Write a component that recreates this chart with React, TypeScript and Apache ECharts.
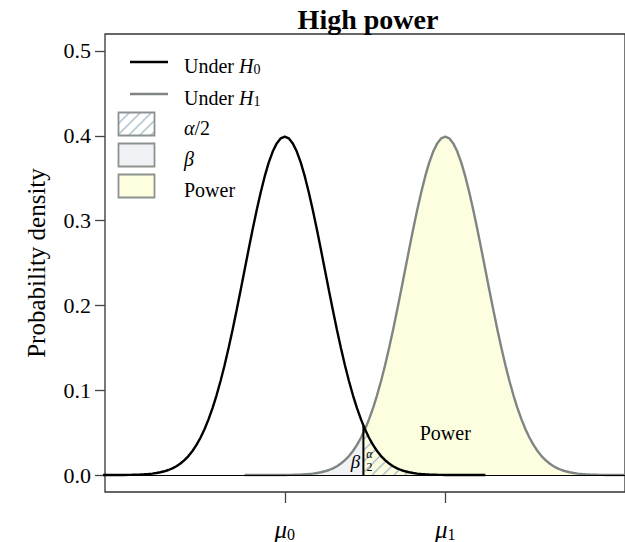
import React, { useEffect, useRef } from "react";
import * as echarts from "echarts";

const titleText = "High power";
const yAxisTitle = "Probability density";
const mu0 = 0;
const mu1 = 4;
const critValue = 1.96;
const h0AtCrit = 0.0584;
const h1AtCrit = 0.0498;
const xMin = -4.48;
const xMax = 8.48;
const yMin = -0.02;
const yMax = 0.52;

// distance from each curve's mean, and density at that distance
const offsets = [
  0, 0.1, 0.2, 0.3, 0.4, 0.5, 0.6, 0.7, 0.8, 0.9, 1.0, 1.1, 1.2, 1.3, 1.4, 1.5, 1.6,
  1.7, 1.8, 1.9, 2.0, 2.1, 2.2, 2.3, 2.4, 2.5, 2.6, 2.7, 2.8, 2.9, 3.0, 3.1, 3.2, 3.3,
  3.4, 3.5, 3.6, 3.7, 3.8, 3.9, 4.0, 4.1, 4.2, 4.3, 4.4, 4.5, 4.6, 4.7, 4.8, 4.9, 5.0,
];
const halfDensity = [
  0.39894, 0.39695, 0.39104, 0.38139, 0.36827, 0.35207, 0.33322, 0.31225, 0.28969,
  0.26609, 0.24197, 0.21785, 0.19419, 0.17137, 0.14973, 0.12952, 0.11092, 0.09405,
  0.07895, 0.06562, 0.05399, 0.04398, 0.03547, 0.02833, 0.02239, 0.01753, 0.01358,
  0.01042, 0.00792, 0.00595, 0.00443, 0.00327, 0.00238, 0.00172, 0.00123, 0.00087,
  0.00061, 0.00042, 0.00029, 0.0002, 0.00013, 0.00009, 0.00006, 0.00004, 0.00002,
  0.00002, 0.00001, 0.00001, 0, 0, 0,
];

const yTicks = [0, 0.1, 0.2, 0.3, 0.4, 0.5];
const xTickValues = [mu0, mu1];
const xTickSubs = ["0", "1"];

const legendItems = [
  { kind: "line", color: "#000000", text: "{n|Under }{i|H}{s|0}" },
  { kind: "line", color: "#7f8581", text: "{n|Under }{i|H}{s|1}" },
  { kind: "hatch", color: "#ffffff", text: "{i|α}{n|/2}" },
  { kind: "box", color: "#f0f2f5", text: "{i|β}" },
  { kind: "box", color: "#fdfde0", text: "{n|Power}" },
];

// annotation anchors in data units
const annotations = [
  { pos: [mu1, 0.05], text: "Power", font: "20px", italic: false },
  { pos: [1.76, 0.016], text: "β", font: "19px", italic: true },
  { pos: [2.11, 0.025], text: "α", font: "12px", italic: true },
  { pos: [2.11, 0.0095], text: "2", font: "12px", italic: false },
];

const FONT = "'Liberation Serif', 'Times New Roman', serif";

function curve(mean: number): number[][] {
  const pts: number[][] = [];
  for (let i = offsets.length - 1; i > 0; i--) pts.push([mean - offsets[i], halfDensity[i]]);
  for (let i = 0; i < offsets.length; i++) pts.push([mean + offsets[i], halfDensity[i]]);
  return pts;
}

function hatchCanvas(bg: string | null) {
  const s = 11;
  const c = document.createElement("canvas");
  c.width = s;
  c.height = s;
  const ctx = c.getContext("2d")!;
  if (bg) {
    ctx.fillStyle = bg;
    ctx.fillRect(0, 0, s, s);
  }
  ctx.strokeStyle = "#b8c9d4";
  ctx.lineWidth = 1.6;
  ctx.beginPath();
  ctx.moveTo(-1, s + 1);
  ctx.lineTo(s + 1, -1);
  ctx.moveTo(-1, 1);
  ctx.lineTo(1, -1);
  ctx.moveTo(s - 1, s + 1);
  ctx.lineTo(s + 1, s - 1);
  ctx.stroke();
  return c;
}

export default function App() {
  const ref = useRef<HTMLDivElement>(null);
  useEffect(() => {
    if (!ref.current) return;
    const chart = echarts.init(ref.current, null, { renderer: "svg" });

    const h0 = curve(mu0);
    const h1 = curve(mu1);
    const betaData = h1.filter((p) => p[0] < critValue).concat([[critValue, h1AtCrit]]);
    const powerData = [[critValue, h1AtCrit]].concat(h1.filter((p) => p[0] > critValue));
    const alphaData = [[critValue, h0AtCrit]].concat(h0.filter((p) => p[0] > critValue));

    const hatchPattern = { image: hatchCanvas(null), repeat: "repeat", imageWidth: 11, imageHeight: 11 };
    const hatchPatternWhite = { image: hatchCanvas("#ffffff"), repeat: "repeat", imageWidth: 11, imageHeight: 11 };

    const legendRich = {
      n: { fontFamily: FONT, fontSize: 20, lineHeight: 26, verticalAlign: "bottom", color: "#000" },
      i: { fontFamily: FONT, fontSize: 20, lineHeight: 26, fontStyle: "italic", verticalAlign: "bottom", color: "#000" },
      s: { fontFamily: FONT, fontSize: 14, lineHeight: 14, verticalAlign: "bottom", color: "#000" },
    };

    const legendYs = [62, 94, 124, 155, 186];
    const graphics: any[] = [
      {
        type: "text",
        x: 368,
        y: 19,
        style: {
          text: titleText,
          font: `bold 28px ${FONT}`,
          fill: "#000",
          textAlign: "center",
          textVerticalAlign: "middle",
        },
      },
    ];
    legendItems.forEach((it, k) => {
      const y = legendYs[k];
      if (it.kind === "line") {
        graphics.push({
          type: "line",
          shape: { x1: 130, y1: y, x2: 168, y2: y },
          style: { stroke: it.color, lineWidth: 2.4 },
        });
      } else {
        graphics.push({
          type: "rect",
          shape: { x: 118.5, y: y - 11.5, width: 36, height: 23 },
          style: {
            fill: it.kind === "hatch" ? hatchPatternWhite : it.color,
            stroke: "#8c938e",
            lineWidth: 1.8,
          },
        });
      }
      graphics.push({
        type: "text",
        x: 184,
        y: y + 1,
        style: {
          text: it.text,
          rich: legendRich,
          textAlign: "left",
          textVerticalAlign: "middle",
        },
      });
    });

    const areaSeries = (data: number[][], color: any) => ({
      type: "line",
      data,
      showSymbol: false,
      symbol: "none",
      silent: true,
      lineStyle: { width: 0, opacity: 0 },
      areaStyle: { color, opacity: 1 },
    });

    const option: any = {
      animation: false,
      backgroundColor: "#ffffff",
      grid: {
        left: 105,
        top: 34,
        width: 525,
        height: 460,
        show: true,
        borderColor: "#333333",
        borderWidth: 1.3,
        backgroundColor: "transparent",
      },
      xAxis: {
        type: "value",
        min: xMin,
        max: xMax,
        axisLine: { show: false, onZero: false },
        splitLine: { show: false },
        axisTick: {
          show: true,
          customValues: xTickValues,
          length: 11,
          lineStyle: { color: "#444", width: 1.3 },
        },
        axisLabel: {
          customValues: xTickValues,
          margin: 20,
          formatter: (v: number) => {
            const idx = xTickValues.indexOf(v);
            return `{m|μ}{s|${xTickSubs[idx]}}`;
          },
          rich: {
            m: { fontFamily: FONT, fontSize: 25, lineHeight: 30, fontStyle: "italic", verticalAlign: "bottom", color: "#000" },
            s: { fontFamily: FONT, fontSize: 16, lineHeight: 16, verticalAlign: "bottom", color: "#000" },
          },
        },
      },
      yAxis: {
        type: "value",
        min: yMin,
        max: yMax,
        name: yAxisTitle,
        nameLocation: "middle",
        nameGap: 56,
        nameTextStyle: { fontFamily: FONT, fontSize: 25, color: "#000" },
        axisLine: { show: false, onZero: false },
        splitLine: { show: false },
        axisTick: {
          show: true,
          customValues: yTicks,
          length: 10,
          lineStyle: { color: "#444", width: 1.3 },
        },
        axisLabel: {
          customValues: yTicks,
          margin: 14,
          fontFamily: FONT,
          fontSize: 22,
          color: "#000",
          formatter: (v: number) => v.toFixed(1),
        },
      },
      graphic: { elements: graphics },
      series: [
        areaSeries(betaData, "#f0f2f5"),
        areaSeries(powerData, "#fdfde0"),
        areaSeries(alphaData, hatchPattern),
        {
          type: "line",
          data: h1,
          showSymbol: false,
          symbol: "none",
          silent: true,
          lineStyle: { color: "#7f8581", width: 2.4 },
        },
        {
          type: "line",
          data: h0,
          showSymbol: false,
          symbol: "none",
          silent: true,
          lineStyle: { color: "#000000", width: 2.4 },
          markLine: {
            silent: true,
            symbol: ["none", "none"],
            label: { show: false },
            lineStyle: { color: "#000", width: 1.2, type: "solid" },
            data: [{ yAxis: 0 }],
          },
        },
        {
          type: "line",
          data: [
            [critValue, 0],
            [critValue, h0AtCrit],
          ],
          showSymbol: false,
          symbol: "none",
          silent: true,
          lineStyle: { color: "#000000", width: 2 },
        },
      ],
    };
    chart.setOption(option);

    const annGraphics = annotations.map((a) => {
      const p = chart.convertToPixel({ gridIndex: 0 }, a.pos) as number[];
      return {
        type: "text",
        x: p[0],
        y: p[1],
        z: 10,
        style: {
          text: a.text,
          font: `${a.italic ? "italic " : ""}${a.font} ${FONT}`,
          fill: "#000",
          textAlign: "center",
          textVerticalAlign: "middle",
        },
      };
    });
    chart.setOption({ graphic: { elements: graphics.concat(annGraphics) } });

    return () => chart.dispose();
  }, []);
  return (
    <div
      ref={ref}
      style={{ position: "absolute", left: 0, top: 0, width: 625, height: 542 }}
    />
  );
}
